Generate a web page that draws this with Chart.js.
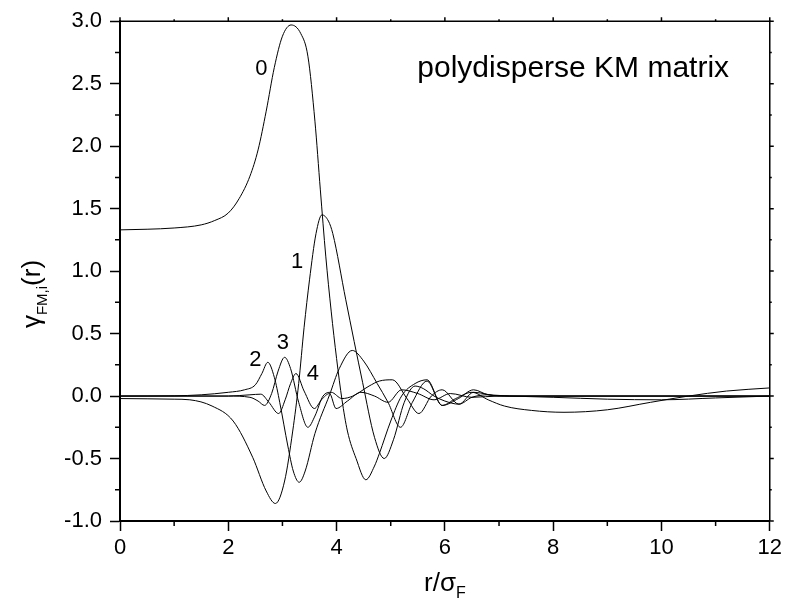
<!DOCTYPE html>
<html>
<head>
<meta charset="utf-8">
<script src="https://cdn.jsdelivr.net/npm/chart.js@4/dist/chart.umd.min.js"></script>
<style>
  html, body { margin: 0; padding: 0; background: #fff; }
  #wrap { width: 786px; height: 605px; }
</style>
</head>
<body>
<div id="wrap"><canvas id="chart" width="786" height="605"></canvas></div>
<script>
// gamma_FM,i(r), key points per curve
const x0 = [0, 0.5, 1.0, 1.5, 1.75, 2.0, 2.2, 2.4, 2.55, 2.7, 2.85, 3.0, 3.16, 3.34, 3.47, 3.6, 3.7, 3.8, 3.9, 4.0, 4.1, 4.2, 4.36, 4.54, 4.7, 4.79, 5.0, 5.2, 5.45, 5.67, 5.95, 6.2, 6.5, 6.8, 7.1, 7.6, 8.2, 9.0, 9.8, 10.5, 11.2, 12];
const y0 = [1.33, 1.335, 1.345, 1.37, 1.405, 1.465, 1.58, 1.76, 1.97, 2.28, 2.63, 2.88, 2.97, 2.90, 2.72, 2.2, 1.65, 1.12, 0.68, 0.3, -0.03, -0.28, -0.5, -0.67, -0.56, -0.46, -0.2, 0.0, 0.1, 0.13, -0.075, -0.02, 0.03, -0.03, -0.08, -0.115, -0.13, -0.11, -0.05, 0.0, 0.04, 0.065];

const x1 = [0, 1.0, 1.29, 1.7, 2.09, 2.45, 2.7, 2.87, 3.04, 3.19, 3.3, 3.4, 3.5, 3.62, 3.73, 3.85, 3.93, 4.17, 4.48, 4.7, 4.88, 5.05, 5.25, 5.45, 5.6, 5.8, 6.0, 6.26, 6.5, 6.8, 7.2, 12];
const y1 = [-0.02, -0.025, -0.03, -0.08, -0.2, -0.49, -0.76, -0.86, -0.68, -0.28, 0.1, 0.55, 0.93, 1.3, 1.45, 1.40, 1.30, 0.77, 0.11, -0.33, -0.5, -0.35, -0.05, 0.08, 0.06, 0.0, -0.04, -0.065, -0.01, 0.01, 0.0, 0.0];

const x2 = [0, 1.0, 1.5, 2.0, 2.3, 2.5, 2.62, 2.73, 2.85, 2.95, 3.1, 3.2, 3.31, 3.42, 3.6, 3.87, 4.05, 4.29, 4.5, 4.75, 4.95, 5.18, 5.4, 5.67, 5.95, 6.25, 6.53, 6.8, 7.2, 8.0, 9.0, 10.0, 11.0, 12];
const y2 = [0.0, 0.002, 0.01, 0.03, 0.05, 0.09, 0.18, 0.27, 0.15, -0.05, -0.4, -0.6, -0.69, -0.6, -0.3, 0.01, 0.22, 0.365, 0.28, 0.1, -0.05, -0.25, -0.05, 0.12, -0.075, -0.02, 0.05, 0.01, 0.0, -0.01, -0.025, -0.03, -0.015, 0.0];

const x3 = [0, 2.0, 2.4, 2.55, 2.67, 2.8, 2.92, 3.04, 3.15, 3.3, 3.47, 3.6, 3.75, 3.9, 4.1, 4.3, 4.6, 4.79, 5.03, 5.3, 5.52, 5.75, 5.95, 6.26, 6.53, 7.0, 12];
const y3 = [0.0, 0.0, -0.01, -0.04, -0.075, 0.02, 0.2, 0.31, 0.22, -0.05, -0.25, -0.16, 0.0, 0.03, -0.02, 0.0, 0.08, 0.12, 0.13, -0.02, -0.14, 0.0, 0.05, -0.065, 0.03, 0.0, 0.0];

const x4 = [0, 2.0, 2.4, 2.6, 2.75, 2.93, 3.05, 3.15, 3.25, 3.4, 3.59, 3.72, 3.87, 3.99, 4.2, 4.45, 4.7, 4.95, 5.2, 5.5, 5.8, 6.1, 6.5, 7.0, 12];
const y4 = [0.0, 0.0, 0.01, 0.015, -0.05, -0.14, -0.03, 0.1, 0.18, 0.04, -0.10, -0.03, 0.02, -0.10, -0.04, 0.03, 0.0, -0.05, 0.05, 0.02, -0.03, 0.02, -0.01, 0.0, 0.0];

const xTicks = [0, 2, 4, 6, 8, 10, 12];
const yTicks = [-1.0, -0.5, 0.0, 0.5, 1.0, 1.5, 2.0, 2.5, 3.0];

const curveNames = ['0', '1', '2', '3', '4'];
const curveLabelX = [2.61, 3.27, 2.50, 3.01, 3.56];
const curveLabelY = [2.62, 1.07, 0.29, 0.425, 0.18];
const noteText = 'polydisperse KM matrix';
const noteX = 8.37, noteY = 2.62;

const FONT = '"Liberation Sans", Arial, Helvetica, sans-serif';

const series = [[x0, y0], [x1, y1], [x2, y2], [x3, y3], [x4, y4]];
const datasets = series.map((s, i) => ({
  label: curveNames[i],
  data: s[0].map((x, k) => ({ x: x, y: s[1][k] })),
  borderColor: '#000',
  borderWidth: 1,
  pointRadius: 0,
  showLine: true,
  cubicInterpolationMode: 'monotone',
  fill: false
}));

// frame, minor ticks, curve labels and axis titles with subscripts
const decorations = {
  id: 'decorations',
  afterDraw(chart) {
    const ctx = chart.ctx;
    const a = chart.chartArea;
    const xs = chart.scales.x, ys = chart.scales.y;
    ctx.save();
    ctx.strokeStyle = '#000';
    ctx.lineWidth = 1.5;
    ctx.beginPath();
    ctx.moveTo(a.left, a.top); ctx.lineTo(a.right, a.top); ctx.lineTo(a.right, a.bottom);
    ctx.stroke();

    ctx.lineWidth = 1.5;
    ctx.beginPath();
    for (let v = 1; v < 12; v += 2) {
      const px = xs.getPixelForValue(v);
      ctx.moveTo(px, a.bottom); ctx.lineTo(px, a.bottom + 5);
    }
    for (let v = 0; v <= 12; v += 1) {
      const px = xs.getPixelForValue(v);
      ctx.moveTo(px, a.top); ctx.lineTo(px, a.top - (v % 2 === 0 ? 4 : 2));
    }
    for (let k = -4; k <= 12; k++) {
      const v = k * 0.25;
      const py = ys.getPixelForValue(v);
      if (k % 2 !== 0) { ctx.moveTo(a.left, py); ctx.lineTo(a.left - 5, py); }
      ctx.moveTo(a.right, py); ctx.lineTo(a.right + (k % 2 === 0 ? 4 : 2), py);
    }
    ctx.stroke();

    ctx.fillStyle = '#000';
    ctx.textAlign = 'center';
    ctx.textBaseline = 'middle';
    ctx.font = '22px ' + FONT;
    curveNames.forEach((t, i) => {
      ctx.fillText(t, xs.getPixelForValue(curveLabelX[i]), ys.getPixelForValue(curveLabelY[i]));
    });
    ctx.font = '30px ' + FONT;
    ctx.fillText(noteText, xs.getPixelForValue(noteX), ys.getPixelForValue(noteY));

    // x title r/sigma_F
    ctx.textAlign = 'left';
    ctx.textBaseline = 'alphabetic';
    ctx.font = '26px ' + FONT;
    const main = 'r/σ';
    const wMain = ctx.measureText(main).width;
    ctx.font = '16px ' + FONT;
    const wSub = ctx.measureText('F').width;
    let sx = (a.left + a.right) / 2 - (wMain + wSub) / 2;
    ctx.font = '26px ' + FONT;
    ctx.fillText(main, sx, 591);
    ctx.font = '16px ' + FONT;
    ctx.fillText('F', sx + wMain, 598);

    // y title gamma_FM,i(r)
    ctx.translate(40, 294);
    ctx.rotate(-Math.PI / 2);
    ctx.font = '26px ' + FONT;
    const wg = ctx.measureText('γ').width;
    const wr = ctx.measureText('(r)').width;
    ctx.font = '15px ' + FONT;
    const ws = ctx.measureText('FM,i').width;
    let tx = -(wg + ws + wr) / 2;
    ctx.font = '26px ' + FONT;
    ctx.fillText('γ', tx, 0);
    ctx.font = '15px ' + FONT;
    ctx.fillText('FM,i', tx + wg, 7);
    ctx.font = '26px ' + FONT;
    ctx.fillText('(r)', tx + wg + ws, 0);
    ctx.restore();
  }
};

new Chart(document.getElementById('chart'), {
  type: 'scatter',
  data: { datasets: datasets },
  options: {
    responsive: false,
    animation: false,
    layout: { padding: { left: 0, right: 14, top: 15, bottom: 0 } },
    plugins: { legend: { display: false }, tooltip: { enabled: false } },
    scales: {
      x: {
        type: 'linear', min: 0, max: 12,
        afterFit(s) { s.height = 84; },
        afterBuildTicks(s) { s.ticks = xTicks.map(v => ({ value: v })); },
        grid: { display: true, drawOnChartArea: false, drawTicks: true, tickLength: 10, tickWidth: 1.5, tickColor: '#000' },
        border: { display: true, color: '#000', width: 2 },
        ticks: { color: '#000', padding: 4, font: { family: FONT, size: 22 }, callback: v => String(v) }
      },
      y: {
        type: 'linear', min: -1, max: 3,
        afterFit(s) { s.width = 120; },
        afterBuildTicks(s) { s.ticks = yTicks.map(v => ({ value: v })); },
        grid: { display: true, drawOnChartArea: false, drawTicks: true, tickLength: 10, tickWidth: 1.5, tickColor: '#000' },
        border: { display: true, color: '#000', width: 2 },
        ticks: { color: '#000', padding: 8, font: { family: FONT, size: 22 }, callback: v => Number(v).toFixed(1) }
      }
    }
  },
  plugins: [decorations]
});
</script>
</body>
</html>
